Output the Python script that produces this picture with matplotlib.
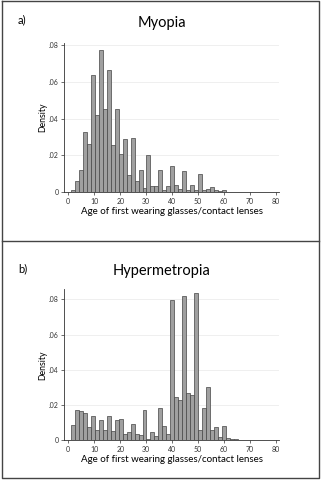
import matplotlib
matplotlib.use('Agg')
from matplotlib import pyplot as plt
from matplotlib.lines import Line2D

plt.rcParams['font.family'] = ['Lato', 'DejaVu Sans']

# histogram bins: start at 1 year, width ~1.53 years
bin_start = 1.0
bin_width = 1.533

myopia = [0.0012, 0.0060, 0.0122, 0.0330, 0.0260, 0.0635, 0.0422, 0.0773,
          0.0452, 0.0665, 0.0257, 0.0452, 0.0210, 0.0290, 0.0094, 0.0294,
          0.0060, 0.0120, 0.0022, 0.0202, 0.0033, 0.0032, 0.0121, 0.0011,
          0.0032, 0.0141, 0.0038, 0.0016, 0.0118, 0.0013, 0.0042, 0.0013,
          0.0098, 0.0012, 0.0016, 0.0027, 0.0010, 0.0007, 0.0011, 0.0004,
          0.0003, 0.0003, 0.0002, 0.0001]

hypermetropia = [0.0085, 0.0170, 0.0165, 0.0155, 0.0078, 0.0140, 0.0057, 0.0113,
                 0.0059, 0.0136, 0.0051, 0.0113, 0.0123, 0.0034, 0.0049, 0.0093,
                 0.0038, 0.0030, 0.0172, 0.0006, 0.0045, 0.0023, 0.0183, 0.0083,
                 0.0034, 0.0796, 0.0248, 0.0227, 0.0821, 0.0269, 0.0255, 0.0838,
                 0.0057, 0.0185, 0.0302, 0.0057, 0.0074, 0.0017, 0.0083, 0.0011,
                 0.0009, 0.0006, 0.0004, 0.0003, 0.0002]

# letter, title, data, axes rect, y max, letter y, title y
panels = [("a)", "Myopia", myopia, [0.199, 0.5994, 0.665, 0.3116], 0.0813, 0.958, 0.952),
          ("b)", "Hypermetropia", hypermetropia, [0.199, 0.0827, 0.665, 0.3143], 0.0857, 0.44, 0.435)]

fig = plt.figure(figsize=(3.23, 4.8), dpi=100)

for letter, title, dens, rect, ytop, ly, ty in panels:
    ax = fig.add_axes(rect)
    edges = [bin_start + i * bin_width for i in range(len(dens))]
    ax.bar(edges, dens, width=bin_width, align='edge', color='#a0a0a0',
           edgecolor='#454545', linewidth=0.5, zorder=3)
    ax.set_xlim(-1.54, 81.2)
    ax.set_ylim(0, ytop)
    ax.set_xticks(range(0, 90, 10))
    ax.set_yticks([0, 0.02, 0.04, 0.06, 0.08])
    ax.set_yticklabels(['0', '.02', '.04', '.06', '.08'])
    ax.yaxis.grid(True, color='#ececec', linewidth=0.6, zorder=0)
    ax.spines['top'].set_visible(False)
    ax.spines['right'].set_visible(False)
    for s in ['left', 'bottom']:
        ax.spines[s].set_linewidth(0.6)
        ax.spines[s].set_color('#333333')
    ax.tick_params(length=2.5, width=0.5, labelsize=5, pad=1.5, colors='#333333')
    ax.set_xlabel('Age of first wearing glasses/contact lenses', fontsize=7, labelpad=1.5)
    ax.set_ylabel('Density', fontsize=6.3, labelpad=1)
    fig.text(0.5, ty, title, fontsize=10.5, ha='center', va='center')
    fig.text(0.056, ly, letter, fontsize=8, va='center')

# outer frame and divider
frame = dict(color='#444444', linewidth=1.0, transform=fig.transFigure)
fig.add_artist(Line2D([0.007, 0.988, 0.988, 0.007, 0.007],
                      [0.997, 0.997, 0.004, 0.004, 0.997], **frame))
fig.add_artist(Line2D([0.007, 0.988], [0.498, 0.498], **frame))

plt.savefig('out.png', dpi=100)
